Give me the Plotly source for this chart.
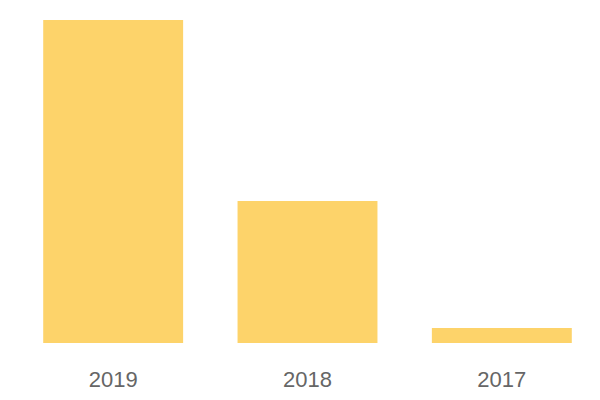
import plotly.graph_objects as go

years = ["2019", "2018", "2017"]
values = [323, 142, 15]

fig = go.Figure(go.Bar(
    x=years, y=values,
    marker=dict(color="#fdd36a", line=dict(width=0)),
    hoverinfo="x+y",
))
fig.update_layout(
    width=600, height=400,
    margin=dict(l=8, r=9, t=12, b=65),
    paper_bgcolor="white", plot_bgcolor="white",
    bargap=0.28,
    showlegend=False,
    font=dict(family="Liberation Sans, Arial, sans-serif", color="#666666", size=22),
)
fig.update_xaxes(showgrid=False, showline=False, zeroline=False, ticks="",
                 ticklabelstandoff=21, tickfont=dict(size=22, color="#666666"))
fig.update_yaxes(visible=False, range=[0, 323], showgrid=False, zeroline=False)
fig.write_html("out.html", config={"displayModeBar": False})
